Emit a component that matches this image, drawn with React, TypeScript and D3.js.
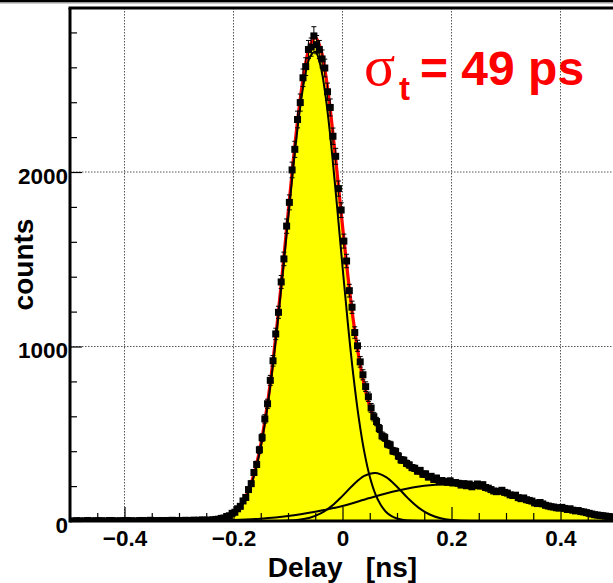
import React, { useEffect, useRef } from 'react';
import * as d3 from 'd3';

// histogram: 200 bins of 5 ps from -0.5 to 0.5 ns
const binLo = -0.5;
const binWidth = 0.005;
const counts = [
  1, 0, 2, 1, 0, 1, 3, 1, 0, 2, 1, 2, 0, 1, 3, 2, 1, 0, 2, 1,
  3, 1, 2, 0, 1, 2, 3, 1, 2, 4, 1, 2, 3, 2, 1, 3, 2, 4, 2, 3,
  3, 2, 4, 3, 2, 5, 3, 4, 6, 4, 5, 4, 7, 9, 10, 15, 17, 26, 30, 44,
  50, 70, 84, 115, 135, 180, 214, 278, 324, 408, 478, 585, 672, 806, 918, 1072, 1196, 1370, 1502, 1690,
  1826, 2012, 2130, 2301, 2398, 2540, 2604, 2702, 2716, 2780, 2730, 2702, 2648, 2596, 2460, 2370, 2205, 2090, 1905, 1782,
  1604, 1490, 1320, 1225, 1080, 1004, 912, 838, 770, 712, 648, 598, 570, 530, 488, 478, 441, 436, 402, 398,
  372, 350, 348, 330, 321, 306, 302, 286, 290, 268, 270, 252, 256, 238, 246, 228, 232, 226, 222, 230,
  218, 220, 216, 206, 214, 202, 212, 196, 204, 212, 200, 208, 192, 188, 180, 172, 168, 170, 176, 164,
  160, 150, 146, 148, 134, 128, 132, 122, 118, 114, 104, 100, 106, 98, 90, 86, 82, 80, 76, 74,
  78, 72, 66, 70, 62, 58, 60, 54, 52, 48, 44, 40, 36, 34, 32, 30, 28, 26, 24, 22,
];

// fit: total (red) and its three components (black)
const totalX = [
  -0.5, -0.45, -0.4, -0.35, -0.3,
  -0.25, -0.24, -0.23, -0.22, -0.21, -0.2, -0.19, -0.18, -0.17, -0.16, -0.15, -0.14, -0.13, -0.12, -0.11,
  -0.1, -0.09, -0.08, -0.07, -0.06, -0.05, -0.04, -0.03, -0.02, -0.01, 0,
  0.01, 0.02, 0.03, 0.04, 0.05, 0.06, 0.07, 0.08, 0.09, 0.1, 0.11, 0.12, 0.13, 0.14, 0.15,
  0.2, 0.25, 0.3, 0.35, 0.4, 0.45, 0.5,
];
const totalY = [
  0, 0, 0.1, 0.2, 0.7,
  3.5, 5.6, 9.3, 15.8, 26.9, 45.5, 76, 123, 195, 297, 438, 623, 854, 1128, 1435,
  1758, 2075, 2358, 2582, 2723, 2772, 2707, 2540, 2292, 1998, 1692,
  1401, 1146, 938, 777, 658, 573, 509, 460, 419, 384, 351, 321, 296, 274, 257,
  215, 194, 157, 114, 74, 42, 21,
];
const mainX = [
  -0.25, -0.24, -0.23, -0.22, -0.21, -0.2, -0.19, -0.18, -0.17, -0.16, -0.15, -0.14, -0.13, -0.12, -0.11,
  -0.1, -0.09, -0.08, -0.07, -0.06, -0.05, -0.04, -0.03, -0.02, -0.01, 0,
  0.01, 0.02, 0.03, 0.04, 0.05, 0.06, 0.07, 0.08, 0.09, 0.1, 0.11, 0.12, 0.13, 0.14, 0.15,
];
const mainY = [
  1.4, 3.0, 6.1, 11.9, 22.2, 39.9, 69.2, 115, 185, 286, 425, 607, 835, 1106, 1409,
  1727, 2038, 2314, 2528, 2657, 2689, 2604, 2411, 2133, 1804, 1459,
  1127, 832, 587, 396, 255, 157, 93, 52, 28, 14, 7, 3, 1.5, 0.6, 0.3,
];
const smallX = [
  -0.14, -0.12, -0.1, -0.08, -0.06, -0.04, -0.02, 0, 0.02, 0.04, 0.06,
  0.08, 0.1, 0.12, 0.14, 0.16, 0.18, 0.2, 0.22, 0.24, 0.26,
];
const smallY = [
  0.15, 0.6, 2.3, 7.1, 18.9, 43.4, 85.4, 144, 208, 258, 275,
  251, 196, 131, 75.5, 37.2, 15.7, 5.7, 1.8, 0.5, 0.1,
];
const broadX = [
  -0.5, -0.45, -0.4, -0.35, -0.3, -0.25, -0.2, -0.15, -0.1, -0.05, 0,
  0.05, 0.1, 0.15, 0.2, 0.25, 0.3, 0.35, 0.4, 0.45, 0.5,
];
const broadY = [
  0, 0, 0.1, 0.2, 0.7, 2.1, 5.6, 13.4, 28.4, 53.4, 86,
  132, 173, 202, 209, 193, 157, 114, 74, 42, 21,
];

const xMajor = [-0.4, -0.2, 0, 0.2, 0.4];
const xMinor = [-0.45, -0.35, -0.3, -0.25, -0.15, -0.1, -0.05, 0.05, 0.1, 0.15, 0.25, 0.3, 0.35, 0.45];
const yMajor = [0, 1000, 2000];
const yMinor = [200, 400, 600, 800, 1200, 1400, 1600, 1800, 2200, 2400, 2600, 2800];

const W = 613;
const H = 583;
const FONT = "'Liberation Sans', Arial, Helvetica, sans-serif";

function Chart() {
  const ref = useRef<SVGSVGElement>(null);

  useEffect(() => {
    const svg = d3.select(ref.current);
    svg.selectAll('*').remove();

    const left = 70, top = 8, right = 615, bottom = 521;
    const x = d3.scaleLinear().domain([-0.5, 0.5]).range([left, right]);
    const y = d3.scaleLinear().domain([0, 2940]).range([bottom, top]);

    // outer canvas border
    svg.append('line').attr('x1', 0).attr('x2', W).attr('y1', 1).attr('y2', 1)
      .attr('stroke', '#000').attr('stroke-width', 2);
    svg.append('line').attr('x1', 0).attr('x2', W).attr('y1', 2.7).attr('y2', 2.7)
      .attr('stroke', '#999').attr('stroke-width', 1.4);

    svg.append('clipPath').attr('id', 'plotclip')
      .append('rect').attr('x', left).attr('y', top).attr('width', right - left).attr('height', bottom - top);

    const plot = svg.append('g').attr('clip-path', 'url(#plotclip)');

    // grid
    plot.selectAll('.gx').data(xMajor).enter().append('line')
      .attr('x1', d => x(d)).attr('x2', d => x(d)).attr('y1', top).attr('y2', bottom)
      .attr('stroke', '#555').attr('stroke-width', 1).attr('stroke-dasharray', '1.5,1.5');
    plot.selectAll('.gy').data(yMajor.filter(d => d > 0)).enter().append('line')
      .attr('x1', left).attr('x2', right).attr('y1', d => y(d)).attr('y2', d => y(d))
      .attr('stroke', '#555').attr('stroke-width', 1).attr('stroke-dasharray', '1.5,1.5');

    // yellow histogram
    const bins = counts.map((c, i) => ({ lo: binLo + i * binWidth, c }));
    const steps = bins.map(b => [b.lo, b.c]);
    steps.push([binLo + counts.length * binWidth, counts[counts.length - 1]]);
    const area = d3.area<number[]>()
      .x(d => x(d[0]))
      .y0(y(0))
      .y1(d => y(d[1]))
      .curve(d3.curveStepAfter);
    plot.append('path').datum(steps).attr('d', area).attr('fill', '#ffff00');

    // fit curves
    const line = d3.line<number[]>()
      .x(d => x(d[0]))
      .y(d => y(d[1]))
      .curve(d3.curveCatmullRom.alpha(0.5));
    plot.append('path').datum(d3.zip(totalX, totalY)).attr('d', line)
      .attr('fill', 'none').attr('stroke', '#ff0000').attr('stroke-width', 3.2);
    [[mainX, mainY], [smallX, smallY], [broadX, broadY]].forEach(([xs, ys]) => {
      plot.append('path').datum(d3.zip(xs, ys)).attr('d', line)
        .attr('fill', 'none').attr('stroke', '#000').attr('stroke-width', 2);
    });

    // data points with error bars
    const pts = bins.filter(b => b.c > 0).map(b => ({ x: b.lo + binWidth / 2, c: b.c }));
    const g = plot.append('g');
    g.selectAll('.err').data(pts).enter().append('line')
      .attr('x1', d => x(d.x)).attr('x2', d => x(d.x))
      .attr('y1', d => y(d.c - Math.sqrt(d.c))).attr('y2', d => y(d.c + Math.sqrt(d.c)))
      .attr('stroke', '#000').attr('stroke-width', 1);
    g.selectAll('.capt').data(pts).enter().append('line')
      .attr('x1', d => x(d.x) - 2.5).attr('x2', d => x(d.x) + 2.5)
      .attr('y1', d => y(d.c + Math.sqrt(d.c))).attr('y2', d => y(d.c + Math.sqrt(d.c)))
      .attr('stroke', '#000').attr('stroke-width', 1);
    g.selectAll('.capb').data(pts).enter().append('line')
      .attr('x1', d => x(d.x) - 2.5).attr('x2', d => x(d.x) + 2.5)
      .attr('y1', d => y(d.c - Math.sqrt(d.c))).attr('y2', d => y(d.c - Math.sqrt(d.c)))
      .attr('stroke', '#000').attr('stroke-width', 1);
    g.selectAll('.mk').data(pts).enter().append('rect')
      .attr('x', d => x(d.x) - 3.5).attr('y', d => y(d.c) - 3.5)
      .attr('width', 7).attr('height', 7).attr('fill', '#000');

    // axes (ticks inward, ROOT style)
    const xAxisMinor = d3.axisBottom(x).tickValues(xMinor).tickSize(-8).tickFormat(() => '');
    const xAxisMajor = d3.axisBottom(x).tickValues(xMajor).tickSize(-14).tickFormat(d3.format('.1f'));
    const yAxisMinor = d3.axisLeft(y).tickValues(yMinor).tickSize(-7).tickFormat(() => '');
    const yAxisMajor = d3.axisLeft(y).tickValues(yMajor).tickSize(-12).tickFormat(d3.format('d'));

    const gx1 = svg.append('g').attr('transform', `translate(0,${bottom})`).call(xAxisMinor);
    const gx2 = svg.append('g').attr('transform', `translate(0,${bottom})`).call(xAxisMajor);
    const gy1 = svg.append('g').attr('transform', `translate(${left},0)`).call(yAxisMinor);
    const gy2 = svg.append('g').attr('transform', `translate(${left},0)`).call(yAxisMajor);
    [gx1, gx2, gy1, gy2].forEach(a => {
      a.select('.domain').remove();
      a.selectAll('line').attr('stroke', '#000').attr('stroke-width', 1.2);
    });
    gx2.selectAll('text')
      .text((d: any) => (d === 0 ? '0' : d3.format('.1f')(d)))
      .attr('y', 25).attr('dy', 0)
      .attr('font-family', FONT).attr('font-weight', 'bold').attr('font-size', 22.5).attr('fill', '#000');
    gy2.selectAll('text')
      .attr('x', -2).attr('dy', 11)
      .attr('font-family', FONT).attr('font-weight', 'bold').attr('font-size', 22.5).attr('fill', '#000');

    // frame
    svg.append('line').attr('x1', left - 1.5).attr('x2', W).attr('y1', top).attr('y2', top)
      .attr('stroke', '#000').attr('stroke-width', 3);
    svg.append('line').attr('x1', left).attr('x2', left).attr('y1', top).attr('y2', bottom + 1.5)
      .attr('stroke', '#000').attr('stroke-width', 3);
    svg.append('line').attr('x1', left).attr('x2', W).attr('y1', bottom).attr('y2', bottom)
      .attr('stroke', '#000').attr('stroke-width', 3);

    // axis titles
    svg.append('text').attr('x', (left + right) / 2).attr('y', 577)
      .attr('text-anchor', 'middle').attr('font-family', FONT).attr('font-weight', 'bold')
      .attr('font-size', 28).style('white-space', 'pre')
      .text('Delay   [ns]');
    svg.append('text')
      .attr('transform', `translate(33,${(top + bottom) / 2}) rotate(-90)`)
      .attr('text-anchor', 'middle').attr('font-family', FONT).attr('font-weight', 'bold')
      .attr('font-size', 28).text('counts');

    // resolution label
    const lab = svg.append('g').attr('fill', '#ff0000');
    lab.append('text').attr('x', 364).attr('y', 85)
      .attr('font-family', "'Liberation Serif', 'DejaVu Serif', serif").attr('font-size', 58)
      .text('σ');
    lab.append('text').attr('x', 399).attr('y', 100)
      .attr('font-family', FONT).attr('font-weight', 'bold').attr('font-size', 33)
      .text('t');
    lab.append('text').attr('x', 420).attr('y', 85)
      .attr('font-family', FONT).attr('font-weight', 'bold').attr('font-size', 48)
      .style('white-space', 'pre')
      .text('= 49 ps');
  }, []);

  return <svg ref={ref} width={W} height={H} style={{ display: 'block', background: '#fff' }} />;
}

export default function App() {
  return (
    <div style={{ position: 'absolute', left: 0, top: 0, width: W, height: H, background: '#fff' }}>
      <Chart />
    </div>
  );
}
